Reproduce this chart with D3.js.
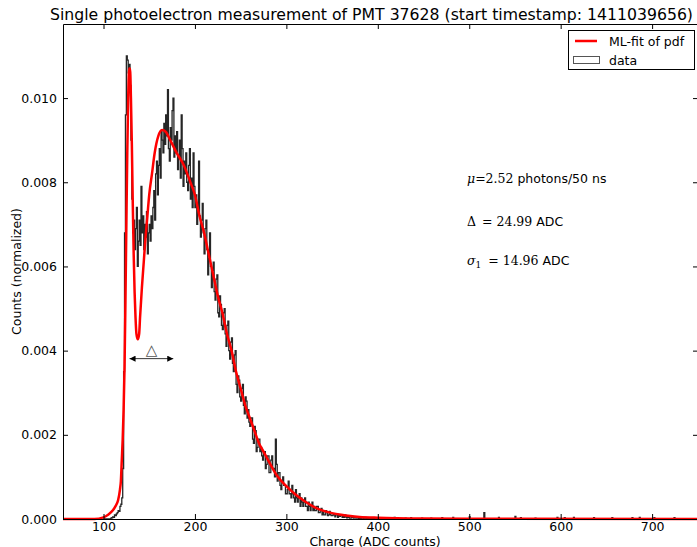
<!DOCTYPE html>
<html>
<head>
<meta charset="utf-8">
<script src="https://cdn.jsdelivr.net/npm/d3@7"></script>
<style>
body { margin: 0; background: #fff; }
text { font-family: "DejaVu Sans", sans-serif; }
</style>
</head>
<body>
<div id="chart"></div>
<script>
// measured histogram (normalized counts), 1 ADC wide bins starting at 100
var binStart = 100;
var binWidth = 1;
var histValues = [
    0, 0, 0, 0, 0, 0, 0, 0, 0.00002, 0.00003,
    0.00005, 0.00004, 0.0001, 0.00008, 0.00012, 0.00015, 0.0002, 0.00018, 0.0003, 0.00035,
    0.0005, 0.0012, 0.0035, 0.0068, 0.0096, 0.0110, 0.0109, 0.0106, 0.0108, 0.0103,
    0.0090, 0.0076, 0.0068, 0.0071, 0.0064, 0.0069, 0.0074, 0.0060, 0.0066, 0.0071,
    0.0065, 0.0079, 0.0068, 0.0072, 0.0064, 0.0070, 0.0067, 0.0073, 0.0063, 0.0068,
    0.0070, 0.0066, 0.0072, 0.0069, 0.0074, 0.0078, 0.0071, 0.0082, 0.0085, 0.0077,
    0.0084, 0.0088, 0.0081, 0.0092, 0.0090, 0.0087, 0.0094, 0.0089, 0.0096, 0.0091,
    0.0102, 0.0088, 0.0085, 0.0093, 0.0090, 0.0097, 0.0100, 0.0086, 0.0091, 0.0087,
    0.0092, 0.0083, 0.0086, 0.0090, 0.0081, 0.0096, 0.0088, 0.0079, 0.0085, 0.0082,
    0.0087, 0.0080, 0.0078, 0.0084, 0.0088, 0.0076, 0.0081, 0.0074, 0.0087, 0.0079,
    0.0074, 0.0077, 0.0070, 0.0073, 0.0085, 0.0072, 0.0067, 0.0071, 0.0075, 0.0068,
    0.0063, 0.0069, 0.0071, 0.0064, 0.0058, 0.0062, 0.0068, 0.0060, 0.0055, 0.0059,
    0.0061, 0.0054, 0.0052, 0.0057, 0.0058, 0.0049, 0.0048, 0.0053, 0.0051, 0.0046,
    0.0045, 0.0049, 0.0050, 0.0044, 0.0041, 0.0046, 0.0047, 0.0040, 0.0038, 0.0042,
    0.0043, 0.0037, 0.0035, 0.0039, 0.0040, 0.0032, 0.0030, 0.0034, 0.0033, 0.0029,
    0.0028, 0.0031, 0.0032, 0.0027, 0.0025, 0.0029, 0.0028, 0.0024, 0.0026, 0.0023,
    0.0022, 0.0024, 0.0024, 0.0019, 0.0018, 0.0022, 0.0021, 0.0016, 0.0017, 0.0019,
    0.0019, 0.0016, 0.0017, 0.0015, 0.0014, 0.0016, 0.0016, 0.0012, 0.0013, 0.0015,
    0.0015, 0.0011, 0.0011, 0.0014, 0.0015, 0.0012, 0.0012, 0.0010, 0.0019, 0.0013,
    0.0009, 0.0011, 0.0011, 0.0008, 0.0007, 0.0009, 0.0010, 0.0008, 0.0008, 0.0006,
    0.0006, 0.0007, 0.0009, 0.0006, 0.0006, 0.0005, 0.0008, 0.0006, 0.0005, 0.0004,
    0.0007, 0.0005, 0.0004, 0.0005, 0.0006, 0.0003, 0.0005, 0.0004, 0.0003, 0.0004,
    0.0005, 0.0003, 0.0003, 0.0002, 0.0004, 0.0003, 0.0002, 0.0003, 0.0004, 0.0002,
    0.0003, 0.0002, 0.0002, 0.0003, 0.0003, 0.00015, 0.00015, 0.0002, 0.00025, 0.0001,
    0.0002, 0.0001, 0.0001, 0.0002, 0.00015, 0.00008, 0.0001, 0.00018, 0.0001, 0.00008,
    0.00008, 0.00012, 0.0001, 0.00005, 0.0001, 0.00012, 0.00004, 0.0001, 0.00006, 0.00008,
    0.00008, 0.00004, 0.00006, 0.00004, 0.0001, 0.00005, 0.00003, 0.00006, 0.00004, 0.00002,
    0.00002, 0.00005, 0.00004, 0.00002, 0.00004, 0.00003, 0.00002, 0.00004, 0.00002, 0.00001,
    0.00004, 0, 0.00002, 0.00003, 0, 0.00002, 0.00004, 0, 0.00001, 0.00002,
    0, 0.00002, 0, 0.00003, 0, 0.00001, 0.00002, 0, 0, 0.00001
];
// isolated entries in the far tail (bin left edge, value)
var tailBins = [402, 410, 418, 430, 436, 448, 458, 470, 482, 500, 516, 532, 550, 556, 572, 596, 604, 614, 636, 656, 678, 686, 702, 724];
var tailValues = [0.00003, 0.00002, 0.00004, 0.00002, 0.00003, 0.00002, 0.00002, 0.00003, 0.00004, 0.00005, 0.00015, 0.00004,
                  0.00006, 0.00003, 0.00002, 0.00004, 0.00003, 0.00004, 0.00003, 0.00003, 0.00003, 0.00004, 0.00003, 0.00003];
var histEnd = 750;

// ML fit of the pdf
var fitX = [40, 90, 100, 105, 110, 113, 116, 118, 119, 120, 121, 122, 123, 124, 125, 126, 127, 128, 129, 130,
            131, 132, 133, 134, 135, 136, 137.5, 139, 140, 142, 144, 146, 148, 150, 153, 156, 160, 164, 168, 173,
            180, 188, 195, 200, 205, 210, 215, 220, 225, 230, 235, 240, 245, 250, 255, 260, 265, 270, 275, 280,
            290, 300, 310, 320, 330, 340, 350, 360, 370, 380, 400, 450, 500, 760];
var fitY = [0, 0, 0.00004, 0.0001, 0.0002, 0.0003, 0.00045, 0.0007, 0.0009, 0.0014, 0.0019, 0.0026, 0.0036, 0.0052, 0.0070, 0.0087, 0.0100, 0.0107, 0.0107, 0.0100,
            0.0089, 0.0075, 0.0063, 0.0054, 0.0048, 0.0044, 0.00427, 0.0044, 0.0048, 0.0055, 0.0061, 0.0067, 0.0072, 0.0077, 0.0082, 0.0087, 0.0091, 0.00924, 0.0092, 0.0090,
            0.0087, 0.0084, 0.0080, 0.0077, 0.0072, 0.0068, 0.0063, 0.0058, 0.0053, 0.0049, 0.0044, 0.0040, 0.0035, 0.0031, 0.0027, 0.0024, 0.0021, 0.0018, 0.0016, 0.0014,
            0.00102, 0.00078, 0.00058, 0.00042, 0.00029, 0.0002, 0.00014, 0.0001, 0.00007, 0.00005, 0.00003, 0.00001, 0.000005, 0];

var xTicks = [100, 200, 300, 400, 500, 600, 700];
var yTicks = [0, 0.002, 0.004, 0.006, 0.008, 0.010];
var xDomain = [55.7, 750.2];
var yDomain = [0, 0.01176];

var title = "Single photoelectron measurement of PMT 37628 (start timestamp: 1411039656)";
var xAxisLabel = "Charge (ADC counts)";
var yAxisLabel = "Counts (normalized)";
var fitLabel = "ML-fit of pdf";
var dataLabel = "data";

var W = 697, H = 547;
var plotL = 63, plotT = 24, plotR = 698, plotB = 519;

var svg = d3.select("#chart")
    .append("svg")
        .attr("width", W)
        .attr("height", H);

svg.append("rect").attr("width", W).attr("height", H).attr("fill", "#fff");

var x = d3.scaleLinear().domain(xDomain).range([plotL, plotR]);
var y = d3.scaleLinear().domain(yDomain).range([plotB, plotT]);

svg.append("clipPath").attr("id", "plotclip")
    .append("rect")
        .attr("x", plotL).attr("y", plotT)
        .attr("width", plotR - plotL).attr("height", plotB - plotT + 2);

// histogram as a step outline
var tailMap = new Map(tailBins.map(function(b, i) { return [b, tailValues[i]]; }));
var nBins = Math.round((histEnd - binStart) / binWidth);
var bins = d3.range(nBins).map(function(i) {
    var edge = binStart + i * binWidth;
    var v = i < histValues.length ? histValues[i] : (tailMap.get(edge) || 0);
    return [edge, v];
});
var lastEdge = binStart + nBins * binWidth;
var stepPts = [[binStart, 0]].concat(bins, [[lastEdge, bins[nBins - 1][1]], [lastEdge, 0]]);

var plot = svg.append("g").attr("clip-path", "url(#plotclip)");

plot.append("path")
    .attr("d", d3.line()
        .x(function(d) { return x(d[0]); })
        .y(function(d) { return y(d[1]); })
        .curve(d3.curveStepAfter)(stepPts))
    .attr("fill", "none")
    .attr("stroke", "#262626")
    .attr("stroke-width", 1.3);

plot.append("path")
    .attr("d", d3.line()
        .x(function(d) { return x(d); })
        .y(function(d, i) { return y(fitY[i]); })
        .curve(d3.curveMonotoneX)(fitX))
    .attr("fill", "none")
    .attr("stroke", "#ff0000")
    .attr("stroke-width", 2.5)
    .attr("stroke-linejoin", "round");

// axes, ticks pointing inwards
var tickLen = 5;
svg.append("g")
    .attr("transform", "translate(0," + plotB + ")")
    .call(d3.axisBottom(x).tickValues(xTicks).tickFormat(d3.format("d"))
        .tickSizeInner(-tickLen).tickSizeOuter(0).tickPadding(3));
svg.append("g")
    .attr("transform", "translate(0," + plotT + ")")
    .call(d3.axisTop(x).tickValues(xTicks).tickFormat("")
        .tickSizeInner(-tickLen).tickSizeOuter(0));
svg.append("g")
    .attr("transform", "translate(" + plotL + ",0)")
    .call(d3.axisLeft(y).tickValues(yTicks).tickFormat(d3.format(".3f"))
        .tickSizeInner(-tickLen).tickSizeOuter(0).tickPadding(6));
svg.append("g")
    .attr("transform", "translate(" + plotR + ",0)")
    .call(d3.axisRight(y).tickValues(yTicks).tickFormat("")
        .tickSizeInner(-tickLen).tickSizeOuter(0));

svg.selectAll(".domain").attr("stroke", "#000");
svg.selectAll(".tick line").attr("stroke", "#000");
svg.selectAll(".tick text")
    .attr("font-family", "DejaVu Sans, sans-serif")
    .attr("font-size", "12.5px")
    .attr("fill", "#000");

// titles
svg.append("text")
    .attr("x", 371.5)
    .attr("y", 20)
    .attr("text-anchor", "middle")
    .attr("font-size", "15.7px")
    .text(title);

svg.append("text")
    .attr("x", 375)
    .attr("y", 545.5)
    .attr("text-anchor", "middle")
    .attr("font-size", "12.5px")
    .text(xAxisLabel);

svg.append("text")
    .attr("transform", "translate(21," + ((plotT + plotB) / 2) + ") rotate(-90)")
    .attr("text-anchor", "middle")
    .attr("font-size", "12.5px")
    .text(yAxisLabel);

// legend
var lg = svg.append("g");
lg.append("rect")
    .attr("x", 568.5).attr("y", 30.5)
    .attr("width", 126).attr("height", 39)
    .attr("fill", "#fff").attr("stroke", "#000").attr("stroke-width", 1);
lg.append("line")
    .attr("x1", 575).attr("x2", 597).attr("y1", 41).attr("y2", 41)
    .attr("stroke", "#ff0000").attr("stroke-width", 2.5);
lg.append("text").attr("x", 609).attr("y", 45.5).attr("font-size", "12.5px").text(fitLabel);
lg.append("rect")
    .attr("x", 573.5).attr("y", 56.5).attr("width", 26).attr("height", 7)
    .attr("fill", "none").attr("stroke", "#555").attr("stroke-width", 1);
lg.append("text").attr("x", 609).attr("y", 64.5).attr("font-size", "12.5px").text(dataLabel);

// fit parameters
var serif = "DejaVu Serif, serif";
var ann = svg.append("g").attr("font-size", "12.5px");
var t1 = ann.append("text").attr("x", 467).attr("y", 183);
t1.append("tspan").attr("font-family", serif).attr("font-style", "italic").text("μ");
t1.append("tspan").attr("font-family", serif).text("=2.52");
t1.append("tspan").text(" photons/50 ns");

var t2 = ann.append("text").attr("x", 467).attr("y", 226);
t2.append("tspan").attr("font-family", serif).text("Δ");
t2.append("tspan").attr("font-family", serif).attr("dx", 6).text("= 24.99");
t2.append("tspan").text(" ADC");

var t3 = ann.append("text").attr("x", 467).attr("y", 264.5);
t3.append("tspan").attr("font-family", serif).attr("font-style", "italic").text("σ");
t3.append("tspan").attr("font-family", serif).attr("font-size", "9px").attr("dy", 3).text("1");
t3.append("tspan").attr("font-family", serif).attr("dx", 7).attr("dy", -3).text("= 14.96");
t3.append("tspan").text(" ADC");

// Delta marker between pedestal and first peak
var arrowY = 0.00381;
var arrowFrom = 128.5, arrowTo = 176.3;
svg.append("defs").append("marker")
    .attr("id", "head")
    .attr("viewBox", "0 0 10 10")
    .attr("refX", 10).attr("refY", 5)
    .attr("markerWidth", 9).attr("markerHeight", 6)
    .attr("markerUnits", "userSpaceOnUse")
    .attr("orient", "auto-start-reverse")
    .append("path").attr("d", "M0,0 L10,5 L0,10 z").attr("fill", "#000");
svg.append("line")
    .attr("x1", x(arrowFrom)).attr("x2", x(arrowTo))
    .attr("y1", y(arrowY)).attr("y2", y(arrowY))
    .attr("stroke", "#000").attr("stroke-width", 0.8)
    .attr("marker-start", "url(#head)").attr("marker-end", "url(#head)");
svg.append("text")
    .attr("x", x((arrowFrom + arrowTo) / 2))
    .attr("y", y(arrowY) - 4)
    .attr("text-anchor", "middle")
    .attr("font-size", "15px")
    .attr("fill", "#555")
    .text("△");
</script>
</body>
</html>
